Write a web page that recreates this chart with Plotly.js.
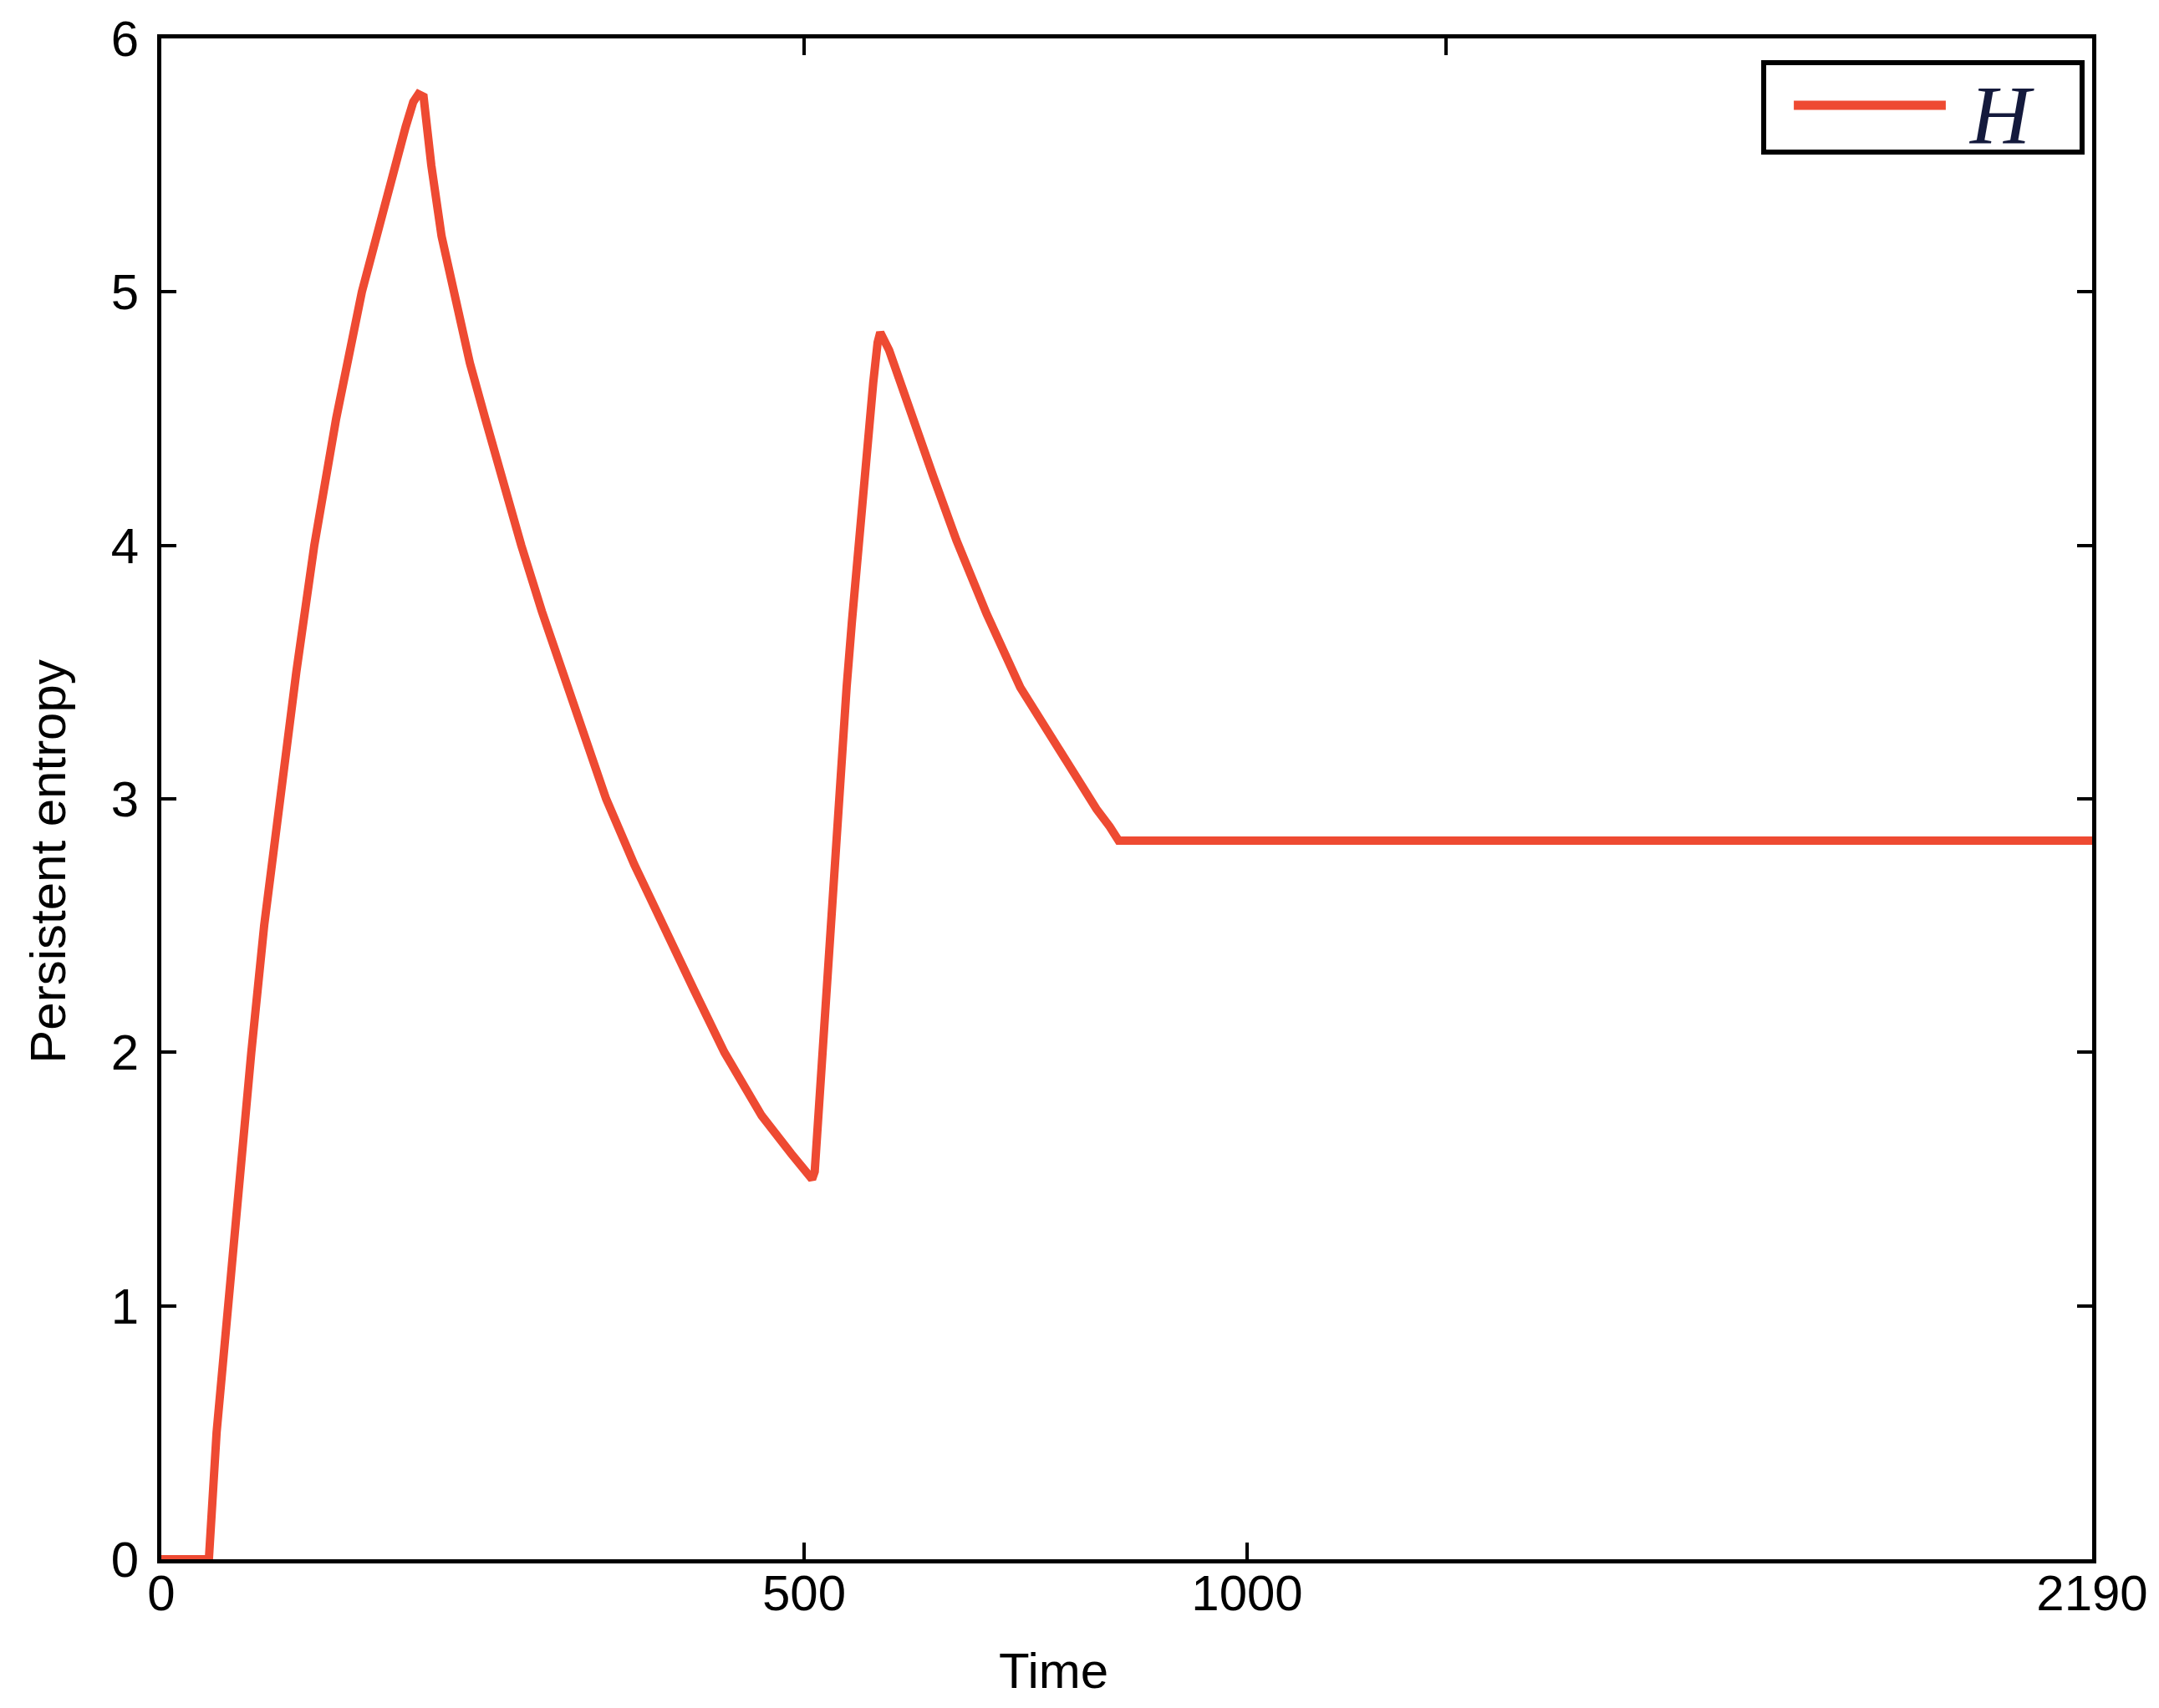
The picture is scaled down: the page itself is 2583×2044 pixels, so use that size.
<!DOCTYPE html>
<html>
<head>
<meta charset="utf-8">
<script src="https://cdn.plot.ly/plotly-3.0.1.min.js"></script>
<style>
  html, body { margin: 0; padding: 0; background: #fff; }
  #graph { width: 2583px; height: 2044px; }
</style>
</head>
<body>
<div id="graph"></div>
<script>
// persistent entropy over time
const times = [0, 37, 43, 52, 60, 70, 80, 92, 105, 119, 136, 156, 170, 180, 190, 196, 200, 204,
  210, 218, 228, 240, 252, 266, 280, 296, 312, 329, 346, 368, 390, 414, 438, 467, 490, 505, 509,
  512, 515, 519, 523, 528, 533, 538, 543, 548, 554, 559, 565, 571, 578, 583, 586,
  596, 620, 646, 672, 706, 744, 792, 830, 845, 855, 2190];
const entropy = [0, 0, 0.5, 1.0, 1.5, 2.0, 2.5, 3.0, 3.5, 4.0, 4.5, 5.0, 5.28, 5.47, 5.65, 5.75, 5.78, 5.77,
  5.50, 5.22, 5.00, 4.72, 4.50, 4.24, 4.00, 3.74, 3.50, 3.25, 3.00, 2.74, 2.50, 2.25, 2.00, 1.75, 1.60, 1.52, 1.50,
  1.53, 1.70, 1.90, 2.08, 2.32, 2.60, 2.91, 3.17, 3.44, 3.70, 3.91, 4.13, 4.35, 4.64, 4.80, 4.84,
  4.77, 4.52, 4.27, 4.02, 3.73, 3.44, 3.17, 2.96, 2.89, 2.835, 2.835];

const tickTimes = [0, 500, 1000, 2190];
const tickLabels = ['0', '500', '1000', '2190'];
const topTickTimes = [500, 1280];

// the time axis is not linear: each labelled time sits at this offset (px) along the axis
const tickPos = [0, 769, 1299, 2310];

function warp(t) {
    for (let i = 1; i < tickTimes.length; i++) {
        if (t <= tickTimes[i]) {
            const f = (t - tickTimes[i - 1]) / (tickTimes[i] - tickTimes[i - 1]);
            return tickPos[i - 1] + f * (tickPos[i] - tickPos[i - 1]);
        }
    }
    return tickPos[tickPos.length - 1];
}

const red = '#ee4a32';
const font = 'Liberation Sans, Arial, sans-serif';
const xRange = [0, tickPos[tickPos.length - 1]];

const trace = {
    x: times.map(warp),
    y: entropy,
    mode: 'lines',
    type: 'scatter',
    name: 'H',
    line: { color: red, width: 10 },
    showlegend: false
};

const layout = {
    width: 2583,
    height: 2044,
    margin: { l: 193, r: 80, t: 46, b: 178 },
    paper_bgcolor: '#fff',
    plot_bgcolor: '#fff',
    font: { family: font, size: 60, color: '#000' },
    xaxis: {
        range: xRange,
        tickvals: tickTimes.map(warp),
        ticktext: tickLabels,
        ticks: 'inside',
        ticklen: 20,
        tickwidth: 4,
        tickcolor: '#000',
        showline: true,
        linecolor: '#000',
        linewidth: 5,
        mirror: true,
        showgrid: false,
        zeroline: false,
        ticklabelstandoff: -16
    },
    xaxis2: {
        range: xRange,
        overlaying: 'x',
        side: 'top',
        tickvals: topTickTimes.map(warp),
        showticklabels: false,
        ticks: 'inside',
        ticklen: 20,
        tickwidth: 4,
        tickcolor: '#000',
        showline: false,
        showgrid: false,
        zeroline: false
    },
    yaxis: {
        range: [0, 6],
        dtick: 1,
        ticks: 'inside',
        ticklen: 18,
        tickwidth: 4,
        tickcolor: '#000',
        showline: true,
        linecolor: '#000',
        linewidth: 5,
        mirror: 'ticks',
        showgrid: false,
        zeroline: false,
        ticklabelstandoff: 10
    },
    annotations: [
        { text: 'Time', xref: 'paper', yref: 'paper', x: 0.462, y: -0.0736,
          xanchor: 'center', yanchor: 'middle', showarrow: false, font: { size: 60 } },
        { text: 'Persistent entropy', xref: 'paper', yref: 'paper', x: -0.0584, y: 0.459,
          xanchor: 'center', yanchor: 'middle', textangle: -90, showarrow: false, font: { size: 60 } },
        { text: '<i>H</i>', xref: 'paper', yref: 'paper', x: 0.9532, y: 0.9500,
          xanchor: 'center', yanchor: 'middle', showarrow: false,
          font: { family: 'Liberation Serif, Times New Roman, serif', size: 100, color: '#141a3c' } }
    ],
    shapes: [
        // legend box
        { type: 'rect', xref: 'paper', yref: 'paper', x0: 0.8299, x1: 0.9948, y0: 0.9253, y1: 0.9841,
          line: { color: '#000', width: 6 }, fillcolor: 'rgba(0,0,0,0)' },
        // legend line sample
        { type: 'line', xref: 'paper', yref: 'paper', x0: 0.8455, x1: 0.9242, y0: 0.9560, y1: 0.9560,
          line: { color: red, width: 11 } }
    ]
};

// dummy trace so the top tick axis is drawn
const topAxis = { x: [], y: [], xaxis: 'x2', yaxis: 'y', type: 'scatter', showlegend: false };

Plotly.newPlot('graph', [trace, topAxis], layout, { staticPlot: true });
</script>
</body>
</html>
